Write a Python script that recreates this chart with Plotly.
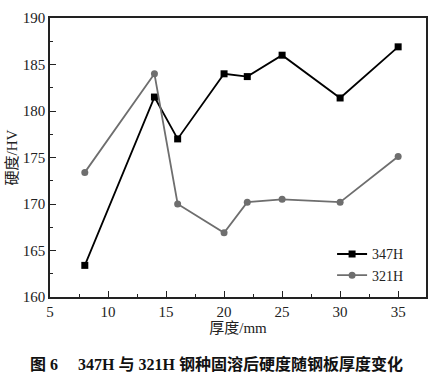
import plotly.graph_objects as go

thickness = [8, 14, 16, 20, 22, 25, 30, 35]
hv_347h = [163.4, 181.5, 177.0, 184.0, 183.7, 186.0, 181.4, 186.9]
hv_321h = [173.4, 184.0, 170.0, 166.9, 170.2, 170.5, 170.2, 175.1]
x_ticks = [5, 10, 15, 20, 25, 30, 35]
y_ticks = [160, 165, 170, 175, 180, 185, 190]

serif = "'Liberation Serif', 'Times New Roman', 'Noto Sans CJK SC', serif"

fig = go.Figure()
fig.add_trace(go.Scatter(x=thickness, y=hv_347h, name="347H", mode="lines+markers",
                         line=dict(color="#000000", width=1.8),
                         marker=dict(symbol="square", size=7, color="#000000")))
fig.add_trace(go.Scatter(x=thickness, y=hv_321h, name="321H", mode="lines+markers",
                         line=dict(color="#6e6e6e", width=1.8),
                         marker=dict(symbol="circle", size=7, color="#6e6e6e")))

axis_common = dict(showgrid=False, zeroline=False, showline=True, mirror=True,
                   linecolor="#222222", linewidth=1.5, ticks="inside", ticklen=6,
                   tickwidth=1, tickcolor="#222222",
                   tickfont=dict(family=serif, size=15, color="#222222"))

fig.update_xaxes(range=[5, 37.4], tickvals=x_ticks,
                 minor=dict(ticks="inside", ticklen=3, dtick=2.5, tick0=5, tickcolor="#222222"),
                 title=dict(text="厚度/mm", font=dict(family=serif, size=15, color="#222222"), standoff=4),
                 **axis_common)
fig.update_yaxes(range=[160, 190], tickvals=y_ticks,
                 minor=dict(ticks="inside", ticklen=3, dtick=2.5, tick0=160, tickcolor="#222222"),
                 title=dict(text="硬度/HV", font=dict(family=serif, size=15, color="#222222"), standoff=2),
                 **axis_common)

fig.update_layout(
    width=438, height=377,
    margin=dict(l=49, r=10, t=13, b=80),
    paper_bgcolor="white", plot_bgcolor="white",
    showlegend=True,
    legend=dict(x=0.955, y=0.02, xanchor="right", yanchor="bottom",
                bgcolor="rgba(0,0,0,0)", font=dict(family=serif, size=14, color="#222222"),
                itemwidth=30, tracegroupgap=0),
    annotations=[dict(text="<b>图 6　 347H 与 321H 钢种固溶后硬度随钢板厚度变化</b>",
                      xref="paper", yref="paper", x=0.443, y=-0.24, xanchor="center",
                      yanchor="middle", showarrow=False,
                      font=dict(family=serif, size=16, color="#111111"))],
)

fig.write_html("out.html", config={"displayModeBar": False},
               post_script="document.body.style.margin='0';document.body.style.overflow='hidden';")
